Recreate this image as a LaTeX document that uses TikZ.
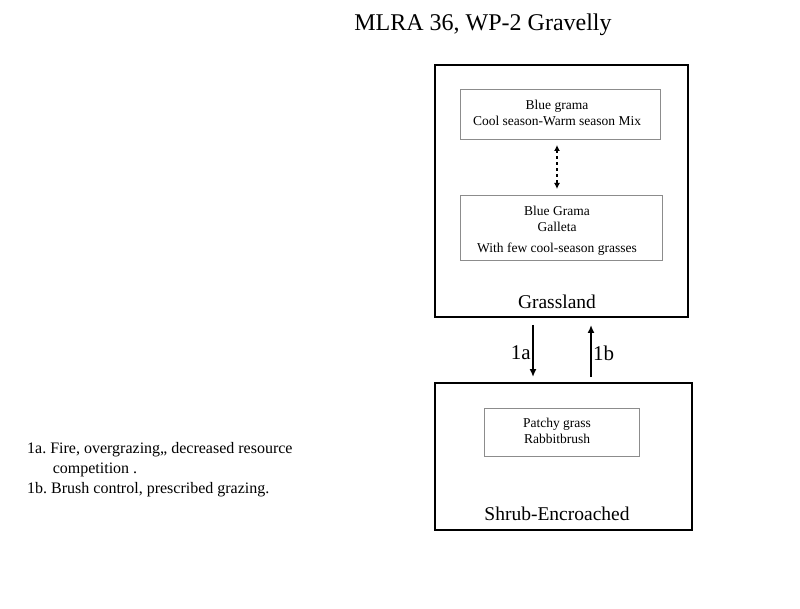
\documentclass[tikz,border=0pt]{standalone}
\usepackage{fontspec}
\setmainfont{Liberation Serif}
\usetikzlibrary{arrows.meta}
\begin{document}
\begin{tikzpicture}[x=1pt,y=-1pt,
  outer/.style={draw,line width=2.2pt},
  inner/.style={draw=black!45,line width=0.5pt},
  small/.style={font=\fontsize{13.5}{16}\selectfont,align=center},
  arr/.style={line width=1.6pt,-{Latex[length=8pt,width=7pt]}}]
\useasboundingbox (0,0) rectangle (800,609);
\node[font=\fontsize{24}{28}\selectfont] (title) at (483,25) {MLRA 36, WP-2 Gravelly};
\draw[outer] (435,65) rectangle (688,317);
\draw[inner] (460,89) rectangle (660,139);
\node[small] (t1) at (557,113) {Blue grama\\Cool season-Warm season Mix};
\draw[inner] (460,195) rectangle (662,260);
\node[small] (t2) at (557,219) {Blue Grama\\Galleta};
\node[small] (t3) at (557,249) {With few cool-season grasses};
\coordinate (d1) at (557,145); \coordinate (d2) at (557,189);
\draw[line width=1.4pt,dashed,{Latex[length=6pt,width=6pt]}-{Latex[length=6pt,width=6pt]}] (d1) -- (d2);
\node[font=\fontsize{19.5}{22}\selectfont] (g) at (557,302) {Grassland};
\draw[outer] (435,383) rectangle (692,530);
\draw[inner] (484,408) rectangle (639,456);
\node[small] (t4) at (557,431) {Patchy grass\\Rabbitbrush};
\node[font=\fontsize{19.5}{22}\selectfont] (s) at (557,514) {Shrub-Encroached};
\coordinate (a1) at (533,325); \coordinate (a2) at (533,377);
\coordinate (b1) at (591,377); \coordinate (b2) at (591,325);
\draw[arr] (a1) -- (a2);
\draw[arr] (b1) -- (b2);
\node[font=\fontsize{21}{24}\selectfont,anchor=east,inner sep=1pt] (l1) at (532,353) {1a};
\node[font=\fontsize{21}{24}\selectfont,anchor=west,inner sep=1pt] (l2) at (592,353) {1b};
\node[font=\fontsize{16}{20}\selectfont,anchor=north west,align=left,inner sep=0pt] (leg) at (27,442)
 {1a.\ Fire, overgrazing,, decreased resource\\\hspace*{1.6em}competition .\\1b.\ Brush control, prescribed grazing.};
\end{tikzpicture}
\end{document}
